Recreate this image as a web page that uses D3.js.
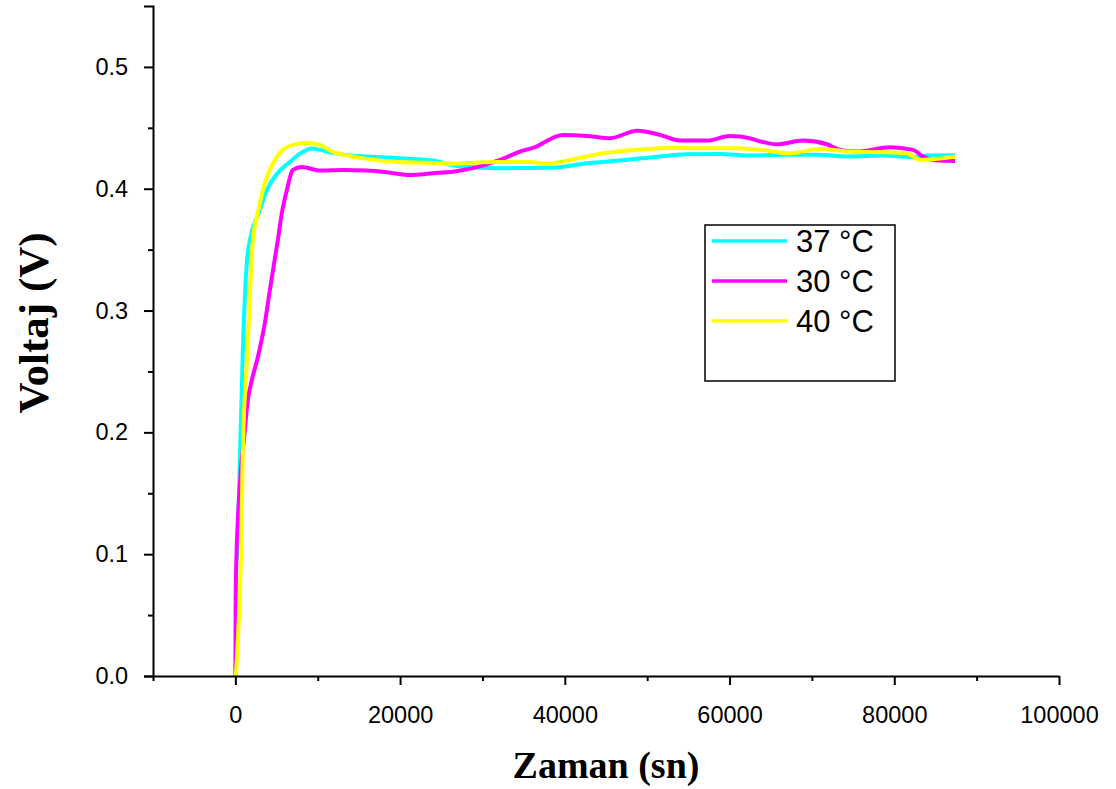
<!DOCTYPE html>
<html><head><meta charset="utf-8">
<script src="https://cdn.jsdelivr.net/npm/d3@7"></script>
<style>body{margin:0;background:#fff}svg{display:block}</style>
</head><body>
<svg id="c" width="1116" height="789"></svg>
<script>
// ---- data ----
const seriesNames = ["37 °C", "30 °C", "40 °C"];
const seriesColors = ["#00FFFF", "#FF00FF", "#FFFF00"];
const t37 = [182,425,546,911,1400,1900,2850,3825,5160,6620,7900,9289,10260,11840,13900,15970,19975,23980,27260,32120,35760,38555,42680,46690,50700,54825,58830,62475,66480,70610,74620,78620,82750,83970,87370];
const v37 = [0.0952,0.1445,0.1773,0.2677,0.3400,0.3620,0.3801,0.3990,0.4130,0.4220,0.4290,0.4330,0.4319,0.4294,0.4272,0.4264,0.4250,0.4231,0.4182,0.4168,0.4171,0.4173,0.4209,0.4231,0.4259,0.4283,0.4286,0.4272,0.4278,0.4278,0.4264,0.4272,0.4259,0.4272,0.4275];
const t30 = [0,36,121,304,668,1032,1518,2004,2732,3582,4189,5161,5646,6254,6982,8075,10260,13050,15970,18760,21190,23980,26410,29325,32120,34550,36130,39770,42680,45480,48755,51550,53980,57260,60050,61270,65760,68920,71830,73410,75470,79480,82270,83490,85190,87370];
const v30 = [0,0.0624,0.0952,0.1281,0.1691,0.1938,0.2266,0.2430,0.2619,0.2898,0.3169,0.3580,0.3801,0.3990,0.4154,0.4179,0.4149,0.4154,0.4149,0.4132,0.4113,0.4127,0.4140,0.4177,0.4236,0.4305,0.4335,0.4442,0.4433,0.4415,0.4475,0.4442,0.4395,0.4395,0.4433,0.4428,0.4365,0.4395,0.4365,0.4319,0.4305,0.4341,0.4319,0.4264,0.4231,0.4228];
const t40 = [61,304,668,911,1481,2125,2732,3340,4796,5768,7468,8804,10260,11840,13900,15970,19975,23980,26410,28110,32120,35760,37825,40620,44630,48755,52760,56770,60410,63690,67330,70970,74620,78620,81540,83120,84700,87370];
const v40 = [0,0.0296,0.0952,0.1856,0.2677,0.3580,0.3801,0.3990,0.4236,0.4319,0.4368,0.4376,0.4360,0.4302,0.4269,0.4245,0.4220,0.4212,0.4204,0.4212,0.4220,0.4220,0.4204,0.4236,0.4291,0.4319,0.4337,0.4332,0.4332,0.4319,0.4291,0.4327,0.4305,0.4300,0.4291,0.4236,0.4242,0.4264];
const xMajorTicks = [0,20000,40000,60000,80000,100000];
const xMinorTicks = [-10000,10000,30000,50000,70000,90000];
const yMajorTicks = [0,0.1,0.2,0.3,0.4,0.5];
const yMinorTicks = [0.05,0.15,0.25,0.35,0.45];
const xTitle = "Zaman (sn)";
const yTitle = "Voltaj (V)";

// ---- layout ----
const svg = d3.select("#c");
const x = d3.scaleLinear().domain([-10000,100000]).range([153,1059]);
const y = d3.scaleLinear().domain([0,0.55]).range([676,6]);

const series = [
  {name:seriesNames[0], color:seriesColors[0], t:t37, v:v37},
  {name:seriesNames[1], color:seriesColors[1], t:t30, v:v30},
  {name:seriesNames[2], color:seriesColors[2], t:t40, v:v40}
];

const line = d3.line().x(d=>x(d[0])).y(d=>y(d[1])).curve(d3.curveMonotoneX);
series.forEach(s=>{
  svg.append("path").datum(s.t.map((t,i)=>[t,s.v[i]]))
    .attr("d",line).attr("fill","none").attr("stroke",s.color)
    .attr("stroke-width",4).attr("stroke-linejoin","round");
});

// axes
const font = "'Liberation Sans', Arial, sans-serif";
const xAxis = svg.append("g").attr("transform",`translate(0,${y(0)})`)
  .call(d3.axisBottom(x).tickValues(xMajorTicks).tickFormat(d3.format("d")).tickSize(9).tickSizeOuter(0));
svg.append("g").attr("transform",`translate(0,${y(0)})`)
  .call(d3.axisBottom(x).tickValues(xMinorTicks).tickFormat("").tickSize(5).tickSizeOuter(0))
  .select(".domain").remove();
const yAxis = svg.append("g").attr("transform",`translate(${x(-10000)},0)`)
  .call(d3.axisLeft(y).tickValues(yMajorTicks).tickFormat(d3.format(".1f")).tickSize(9).tickSizeOuter(9));
svg.append("g").attr("transform",`translate(${x(-10000)},0)`)
  .call(d3.axisLeft(y).tickValues(yMinorTicks).tickFormat("").tickSize(5).tickSizeOuter(0))
  .select(".domain").remove();
svg.selectAll(".domain").attr("stroke","#000").attr("stroke-width",2);
svg.selectAll(".tick line").attr("stroke","#000").attr("stroke-width",2);
svg.selectAll(".tick text").attr("font-family",font).attr("font-size",23.5).attr("fill","#000");
xAxis.selectAll(".tick text").attr("dy","1.5em");
yAxis.selectAll(".tick text").attr("dx","-0.55em");

// titles
svg.append("text").attr("x",606).attr("y",778).attr("text-anchor","middle")
  .attr("font-family","'Liberation Serif', 'Times New Roman', serif").attr("font-weight","bold")
  .attr("font-size",38).text(xTitle);
svg.append("text").attr("transform","translate(48,323) rotate(-90)").attr("text-anchor","middle")
  .attr("font-family","'Liberation Serif', 'Times New Roman', serif").attr("font-weight","bold")
  .attr("font-size",43).text(yTitle);

// legend
const lg = svg.append("g");
lg.append("rect").attr("x",705).attr("y",225).attr("width",190).attr("height",156)
  .attr("fill","none").attr("stroke","#000").attr("stroke-width",1.5);
series.forEach((s,i)=>{
  const yy = 241 + i*40;
  lg.append("line").attr("x1",712).attr("x2",787).attr("y1",yy).attr("y2",yy)
    .attr("stroke",s.color).attr("stroke-width",3.5);
  lg.append("text").attr("x",796).attr("y",yy+11).attr("font-family",font)
    .attr("font-size",31).attr("fill","#000").text(s.name);
});
</script>
</body></html>
